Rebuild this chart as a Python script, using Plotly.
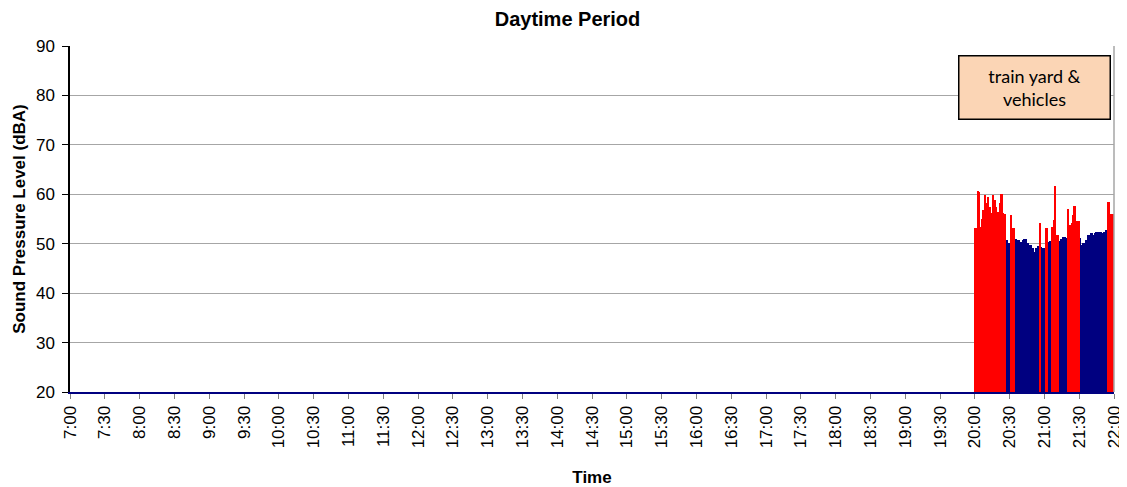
import plotly.graph_objects as go

# one-minute levels from 20:00 to 21:59 (dBA)
minutes = list(range(120))
levels = [
    53.2, 53.2, 60.7, 60.5, 51.4, 53.4, 55.0, 56.8, 59.9, 58.2,
    58.2, 59.5, 57.5, 57.5, 56.2, 59.9, 58.8, 58.8, 57.5, 56.5,
    56.5, 58.2, 60.0, 60.0, 56.2, 56.0, 56.0, 50.7, 50.1, 50.1,
    49.8, 55.9, 53.2, 53.2, 50.4, 50.9, 50.7, 50.7, 50.7, 50.4,
    50.4, 50.7, 50.9, 50.9, 50.9, 50.1, 49.8, 49.8, 49.8, 49.1,
    49.1, 48.4, 49.1, 49.1, 49.5, 49.5, 54.2, 49.4, 49.1, 49.1,
    49.1, 53.2, 53.2, 50.4, 50.6, 50.6, 53.4, 53.4, 54.8, 61.7,
    51.8, 51.8, 50.6, 50.6, 50.9, 50.9, 51.3, 51.3, 51.1, 51.1,
    57.0, 53.8, 53.8, 54.1, 55.8, 57.6, 57.6, 54.1, 54.5, 54.5,
    51.1, 49.7, 49.1, 50.1, 50.1, 50.8, 50.8, 51.8, 51.8, 51.4,
    52.1, 52.1, 51.8, 52.1, 52.3, 52.3, 51.8, 52.3, 52.3, 52.1,
    51.8, 52.3, 52.3, 52.8, 58.5, 58.5, 55.5, 56.1, 56.1, 56.0,
]
# 1 = train yard & vehicles event
event = [
    1, 1, 1, 1, 0, 1, 1, 1, 1, 1,
    1, 1, 1, 1, 1, 1, 1, 1, 1, 1,
    1, 1, 1, 1, 1, 1, 1, 0, 0, 0,
    0, 1, 1, 1, 0, 0, 0, 0, 0, 0,
    0, 0, 0, 0, 0, 0, 0, 0, 0, 0,
    0, 0, 0, 0, 0, 0, 1, 0, 0, 0,
    0, 1, 1, 0, 0, 0, 1, 1, 1, 1,
    1, 1, 0, 0, 0, 0, 0, 0, 0, 0,
    1, 1, 1, 1, 1, 1, 1, 1, 1, 1,
    0, 0, 0, 0, 0, 0, 0, 0, 0, 0,
    0, 0, 0, 0, 0, 0, 0, 0, 0, 0,
    0, 0, 0, 0, 1, 1, 1, 1, 1, 1,
]
tick_hours = [7 + 0.5 * i for i in range(31)]
tick_labels = ["%d:%02d" % (int(h), 30 if h % 1 else 0) for h in tick_hours]
annotation_text = "train yard &<br>vehicles"

x = [20 + (m + 0.5) / 60 for m in minutes]
ambient = [v if e == 0 else None for v, e in zip(levels, event)]
events = [v if e == 1 else None for v, e in zip(levels, event)]

fig = go.Figure()
fig.add_trace(go.Bar(x=x, y=ambient, width=1 / 60, marker=dict(color="#000080", line=dict(width=0)), showlegend=False))
fig.add_trace(go.Bar(x=x, y=events, width=1 / 60, marker=dict(color="#FF0000", line=dict(width=0)), showlegend=False))

font = "Liberation Sans, Arial, sans-serif"
# page body adds an 8px margin, so the figure is 8px smaller than the window
fig.update_layout(
    width=1119, height=479,
    margin=dict(l=62, r=13, t=38, b=95),
    paper_bgcolor="white", plot_bgcolor="white",
    barmode="overlay", bargap=0,
    font=dict(family=font, size=17, color="black"),
    title=dict(text="<b>Daytime Period</b>", x=0.5, xanchor="center", y=0.977, yanchor="middle",
               font=dict(size=20, family=font)),
    xaxis=dict(range=[7, 22], tickvals=tick_hours, ticktext=tick_labels, tickangle=-90,
               showgrid=False, zeroline=False, showline=True, linecolor="#000080", linewidth=2,
               ticks="outside", ticklen=5, tickcolor="#808080", automargin=False,
               title=dict(text="<b>Time</b>", font=dict(size=17), standoff=24)),
    yaxis=dict(range=[20, 90], dtick=10, showgrid=True, gridcolor="#a6a6a6", gridwidth=1,
               zeroline=False, showline=True, linecolor="black", linewidth=1.5,
               ticks="outside", ticklen=6, tickcolor="black", automargin=False,
               ticklabelstandoff=4,
               title=dict(text="<b>Sound Pressure Level (dBA)</b>", font=dict(size=17), standoff=6)),
    shapes=[dict(type="line", xref="paper", yref="paper", x0=1, x1=1, y0=0, y1=1,
                 line=dict(color="#a6a6a6", width=1.5))],
    annotations=[dict(text=annotation_text, xref="paper", yref="paper", x=0.924, y=0.879,
                      xanchor="center", yanchor="middle",
                      showarrow=False, bgcolor="#FBD5B5", bordercolor="black", borderwidth=1.5,
                      width=148, height=60, font=dict(family="Lato, Open Sans, sans-serif", size=18))],
)

fig.write_html("out.html")
